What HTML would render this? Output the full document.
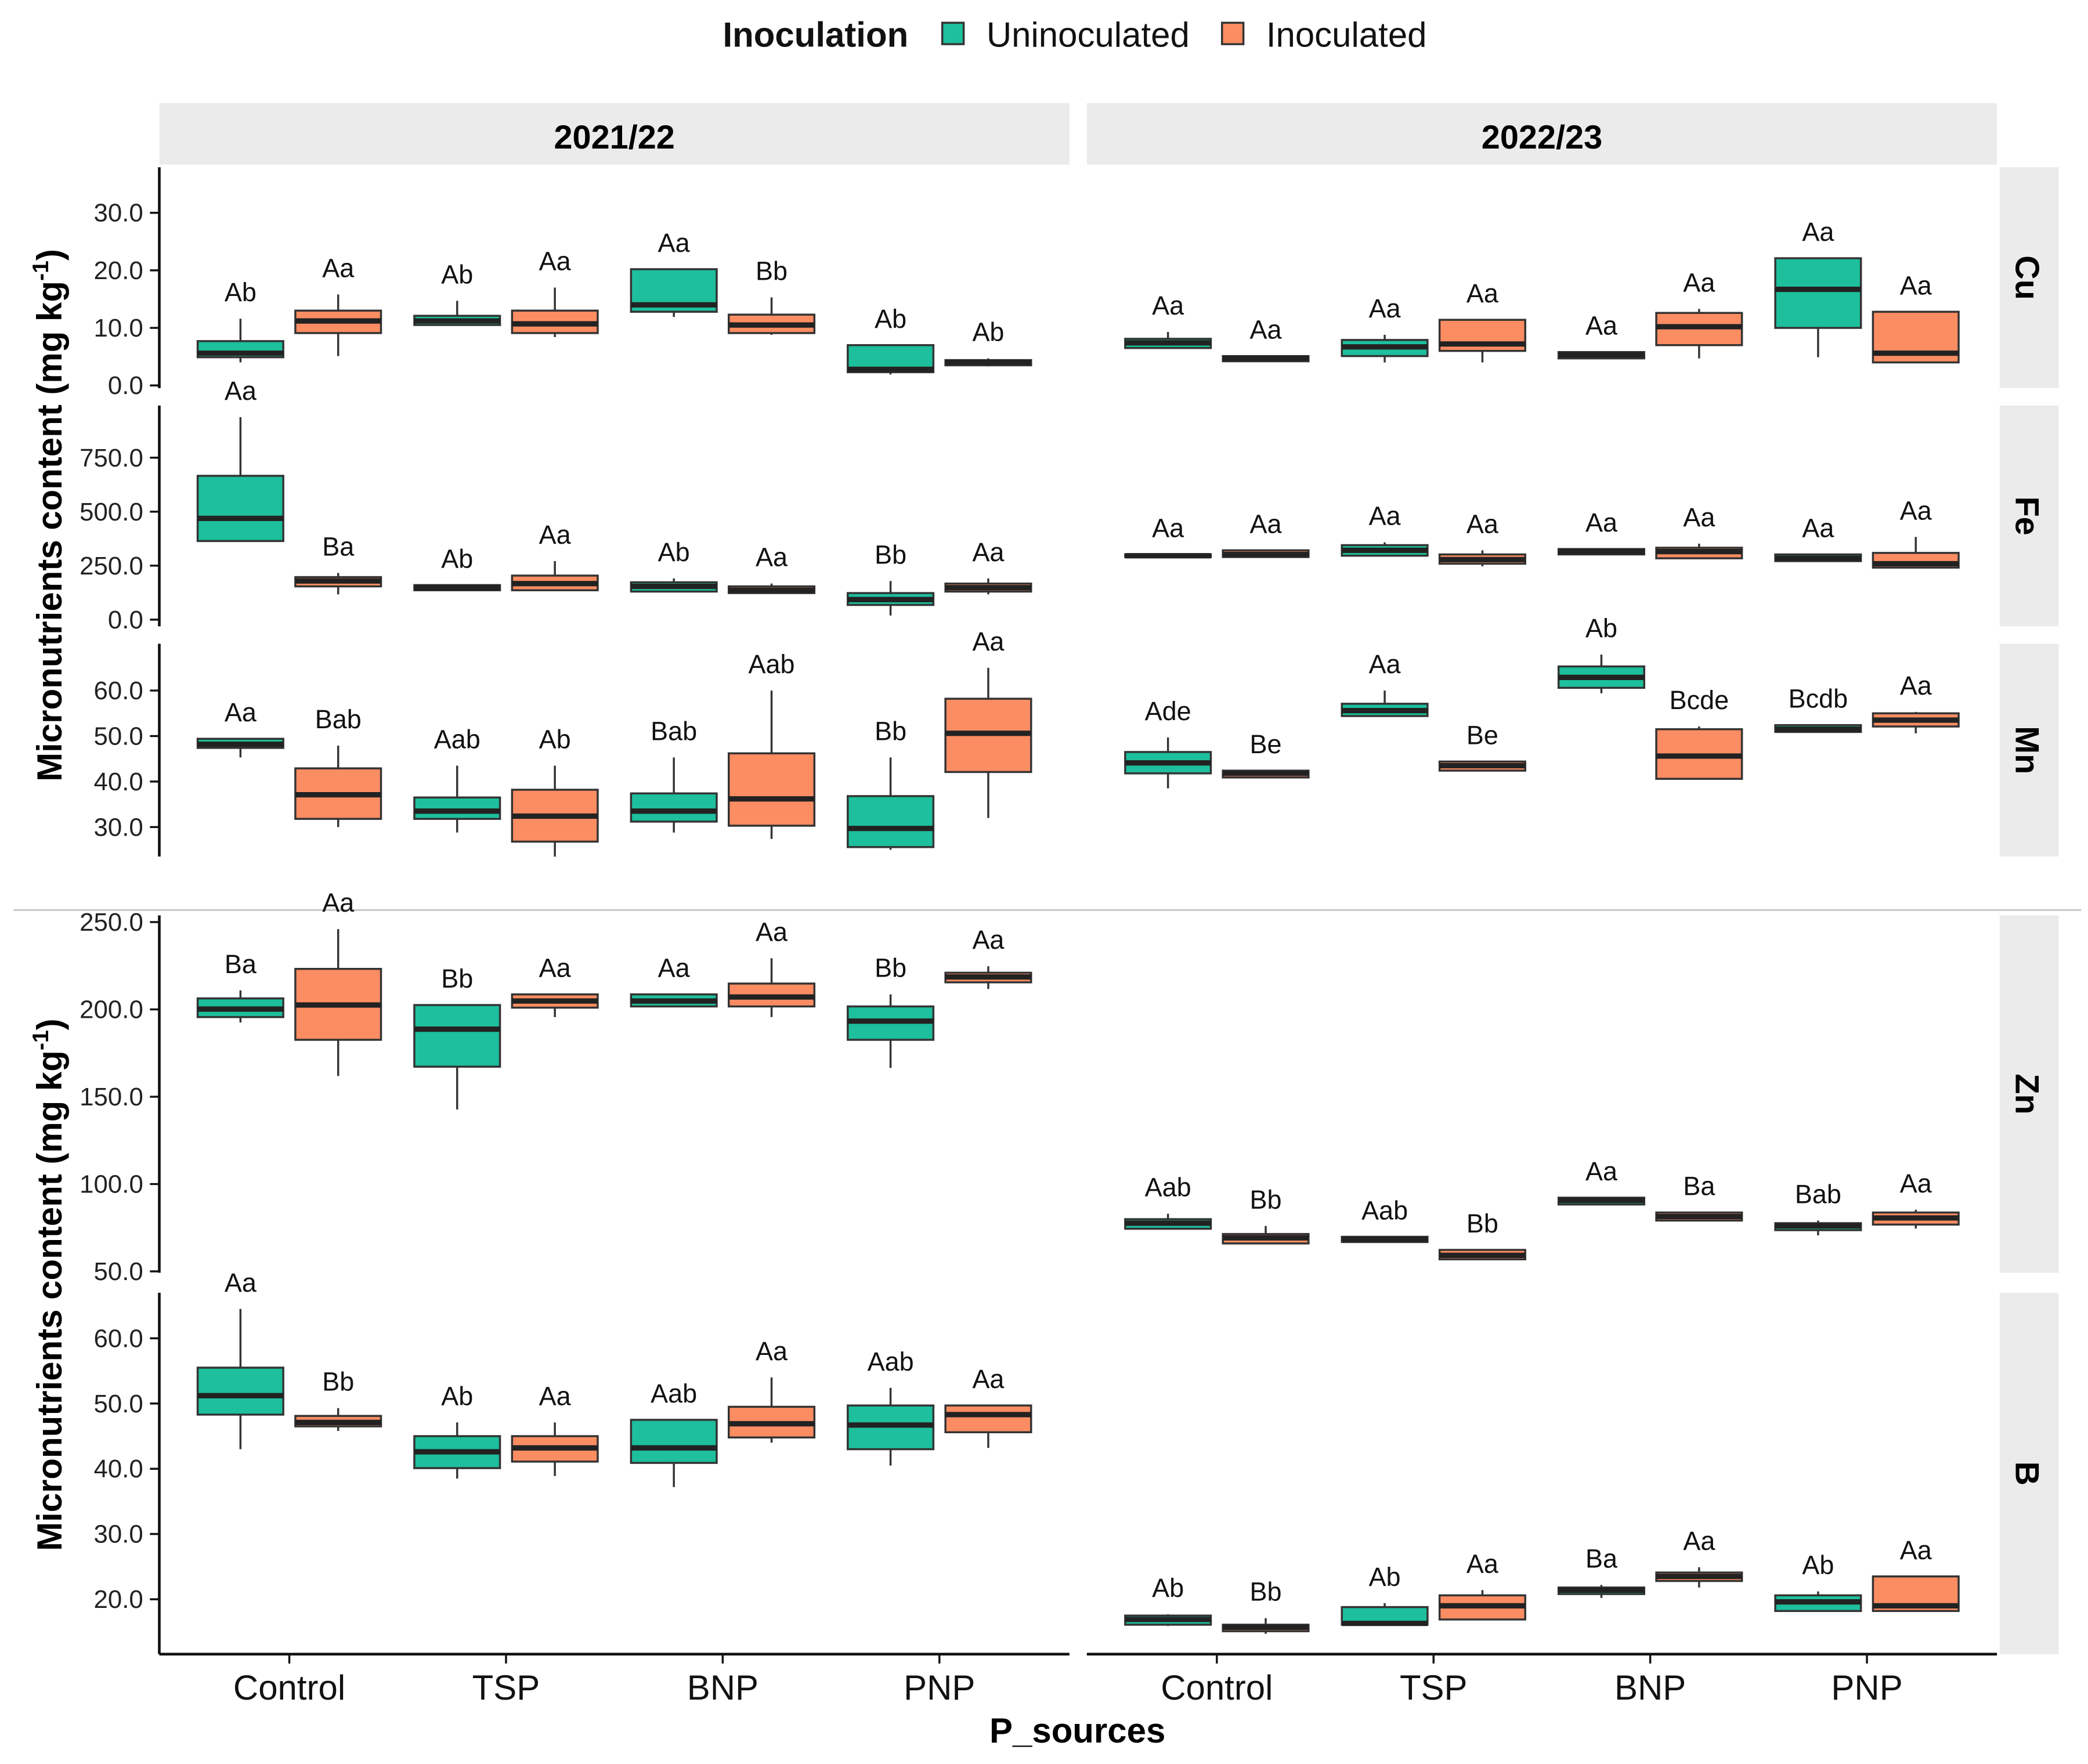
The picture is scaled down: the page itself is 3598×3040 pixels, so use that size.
<!DOCTYPE html>
<html><head><meta charset="utf-8"><style>html,body{margin:0;padding:0;background:#fff}svg{display:block}</style></head>
<body>
<svg id="chart" xmlns="http://www.w3.org/2000/svg" width="3598" height="3040" viewBox="0 0 1560 1318.1" font-family="Liberation Sans, Arial, sans-serif">
<rect width="1560" height="1318.1" fill="#fff"/>
<g>
<text x="540" y="35" font-size="26" font-weight="bold" fill="#111">Inoculation</text>
<g><rect x="704" y="17" width="16" height="16" fill="#1DBF9C" stroke="#333" stroke-width="1.5"/><text x="737" y="35" font-size="26" fill="#111">Uninoculated</text></g>
<g><rect x="913" y="17" width="16" height="16" fill="#FC8D62" stroke="#333" stroke-width="1.5"/><text x="946" y="35" font-size="26" fill="#111">Inoculated</text></g>
</g>
<rect x="119" y="77" width="680" height="46" fill="#EBEBEB"/>
<text x="459" y="111" font-size="25" font-weight="bold" text-anchor="middle">2021/22</text>
<rect x="812" y="77" width="680" height="46" fill="#EBEBEB"/>
<text x="1152" y="111" font-size="25" font-weight="bold" text-anchor="middle">2022/23</text>
<line x1="10" y1="680" x2="1555" y2="680" stroke="#ccc" stroke-width="1.5"/>
<text transform="translate(46,385) rotate(-90)" font-size="26" font-weight="bold" text-anchor="middle">Micronutrients content (mg kg<tspan font-size="17" dy="-10">-1</tspan><tspan dy="10">)</tspan></text>
<text transform="translate(46,960) rotate(-90)" font-size="26" font-weight="bold" text-anchor="middle">Micronutrients content (mg kg<tspan font-size="17" dy="-10">-1</tspan><tspan dy="10">)</tspan></text>
<text x="805" y="1302" font-size="26" font-weight="bold" text-anchor="middle">P_sources</text>
<g id="plot"></g>
</svg>
<script>
const categories = ["Control","TSP","BNP","PNP"];
const groups = ["Uninoculated","Inoculated"];
const facetNames = ["Cu","Fe","Mn","Zn","B"];
const cuTicks = [0,10,20,30];
const feTicks = [0,250,500,750];
const mnTicks = [30,40,50,60];
const znTicks = [50,100,150,200,250];
const bTicks = [20,30,40,50,60];
// each box: [lowWhisker, q1, median, q3, highWhisker], order: Control U, Control I, TSP U, TSP I, BNP U, BNP I, PNP U, PNP I
const cuLeft = [[4,4.9,5.6,7.7,11.6],[5.1,9.1,11.2,13,15.8],[10.5,10.5,11.2,12.1,14.7],[8.4,9.1,10.7,13,17],[11.9,12.8,14,20.2,20.2],[8.8,9.1,10.5,12.3,15.3],[1.9,2.3,2.8,7,7],[3.3,3.5,4,4.4,4.7]];
const cuLeftLabels = ["Ab","Aa","Ab","Aa","Aa","Bb","Ab","Ab"];
const cuRight = [[6.5,6.5,7.4,8.1,9.3],[4.2,4.2,4.7,5.1,5.1],[4,5.1,6.7,7.9,8.8],[4,6,7.2,11.4,11.4],[4.7,4.7,5.3,5.8,5.8],[4.7,7,10.2,12.6,13.3],[4.9,10,16.7,22.1,22.1],[4,4,5.6,12.8,12.8]];
const cuRightLabels = ["Aa","Aa","Aa","Aa","Aa","Aa","Aa","Aa"];
const feLeft = [[364,364,469,666,938],[117,154,179,197,216],[136,136,148,160,160],[136,136,167,204,271],[130,130,154,173,191],[123,123,136,154,167],[19,68,93,123,179],[117,130,148,167,191]];
const feLeftLabels = ["Aa","Ba","Ab","Aa","Ab","Aa","Bb","Aa"];
const feRight = [[290,290,296,302,302],[290,290,302,321,321],[296,296,321,345,358],[247,259,278,302,321],[302,302,315,327,327],[284,284,315,333,352],[271,271,284,302,302],[241,241,259,309,383]];
const feRightLabels = ["Aa","Aa","Aa","Aa","Aa","Aa","Aa","Aa"];
const mnLeft = [[45.3,47.4,48.2,49.4,49.4],[30,31.8,37.1,42.9,47.9],[28.8,31.8,33.5,36.5,43.5],[23.5,26.8,32.4,38.2,43.5],[28.8,31.2,33.5,37.4,45.3],[27.4,30.3,36.2,46.2,60],[25,25.6,29.7,36.8,45.3],[32,42.1,50.6,58.2,65]];
const mnLeftLabels = ["Aa","Bab","Aab","Ab","Bab","Aab","Bb","Aa"];
const mnRight = [[38.5,41.8,44.1,46.5,49.7],[40.9,40.9,41.8,42.4,42.4],[54.4,54.4,55.6,57.1,60],[42.4,42.4,43.5,44.4,44.4],[59.4,60.6,62.9,65.3,67.9],[40.6,40.6,45.6,51.5,52.1],[50.9,50.9,51.5,52.4,52.4],[50.6,52.1,53.5,55,55.3]];
const mnRightLabels = ["Ade","Be","Aa","Be","Ab","Bcde","Bcdb","Aa"];
const znLeft = [[192.5,195.6,200.2,206.3,210.9],[161.9,182.6,202.5,223.2,246],[142.7,167.2,188.7,202.5,202.5],[195.6,201,204.8,208.6,208.6],[201.7,201.7,204.8,208.6,208.6],[195.6,201.7,207.1,214.8,229.3],[166.5,182.6,193.3,201.7,208.6],[211.7,215.5,218.6,221,224.7]];
const znLeftLabels = ["Ba","Aa","Bb","Aa","Aa","Aa","Bb","Aa"];
const znRight = [[74.4,74.4,77.6,79.9,83],[66,66,69.2,71.4,76],[66.8,66.8,68.4,69.8,69.8],[56.9,56.9,59.2,62.3,62.3],[88.3,88.3,90.6,92.2,92.2],[79.1,79.1,81.4,83.7,83.7],[70.6,73.6,76,77.6,79.1],[74.5,76.8,80.6,83.7,85.3]];
const znRightLabels = ["Aab","Bb","Aab","Bb","Aa","Ba","Bab","Aa"];
const bLeft = [[43,48.3,51.2,55.5,64.5],[45.8,46.5,47.1,48.1,49.3],[38.5,40.1,42.6,45,47.1],[38.9,41.1,43.2,45,47.1],[37.2,40.9,43.2,47.5,47.5],[44,44.8,46.9,49.5,54],[40.5,43,46.7,49.7,52.4],[43.2,45.6,48.3,49.7,49.7]];
const bLeftLabels = ["Aa","Bb","Ab","Aa","Aab","Aa","Aab","Aa"];
const bRight = [[15.9,16.1,16.9,17.5,17.7],[14.7,15.1,15.7,16.1,17.1],[16.1,16.1,16.3,18.8,19.4],[16.9,16.9,19,20.6,21.4],[20.2,20.8,21.4,21.8,22.2],[21.8,22.8,23.5,24.1,24.9],[18.2,18.2,19.6,20.6,21.2],[18.2,18.2,19,23.5,23.5]];
const bRightLabels = ["Ab","Bb","Ab","Aa","Ba","Aa","Ab","Aa"];

const NS="http://www.w3.org/2000/svg";
const plot=document.getElementById('plot');
function mk(tag,attrs,parent){const e=document.createElementNS(NS,tag);for(const k in attrs)e.setAttribute(k,attrs[k]);(parent||plot).appendChild(e);return e;}
const facets=[
 {name:facetNames[0],top:125,bot:290,v0:0,y0:288,v1:30,y1:159,ticks:cuTicks,left:cuLeft,ll:cuLeftLabels,right:cuRight,rl:cuRightLabels},
 {name:facetNames[1],top:303,bot:468,v0:0,y0:463,v1:750,y1:342,ticks:feTicks,left:feLeft,ll:feLeftLabels,right:feRight,rl:feRightLabels},
 {name:facetNames[2],top:481,bot:640,v0:30,y0:618,v1:60,y1:516,ticks:mnTicks,left:mnLeft,ll:mnLeftLabels,right:mnRight,rl:mnRightLabels},
 {name:facetNames[3],top:684,bot:951,v0:50,y0:950,v1:250,y1:689,ticks:znTicks,left:znLeft,ll:znLeftLabels,right:znRight,rl:znRightLabels},
 {name:facetNames[4],top:966,bot:1236,v0:20,y0:1195,v1:60,y1:1000,ticks:bTicks,left:bLeft,ll:bLeftLabels,right:bRight,rl:bRightLabels}
];
const panels=[{x0:119,w:680},{x0:812,w:680}];
function xPos(panel,ci,gi){const step=panel.w/4.2;const c=panel.x0+panel.w/2+(ci-1.5)*step;return c+(gi===0?-36.5:36.5);}
const colors=["#1DBF9C","#FC8D62"];
facets.forEach(f=>{
  const yS=v=>f.y0+(v-f.v0)*(f.y1-f.y0)/(f.v1-f.v0);
  const strip=mk('rect',{x:1494,y:f.top,width:44,height:f.bot-f.top,fill:'#EBEBEB'});
  
  
  const st=mk('text',{transform:`translate(1506,${(f.top+f.bot)/2}) rotate(90)`,'font-size':25,'font-weight':'bold','text-anchor':'middle'});st.textContent=f.name;
  
  
  const ax=mk('line',{x1:119,y1:f.top,x2:119,y2:f.bot,stroke:'#111','stroke-width':2});
  
  
  f.ticks.forEach(t=>{
    const y=yS(t);
    const tl=mk('line',{x1:112,y1:y,x2:119,y2:y,stroke:'#111','stroke-width':1.5});
    
    
    const tx=mk('text',{x:107,y:y+6.5,'font-size':19,'text-anchor':'end',fill:'#222'});tx.textContent=t.toFixed(1);
    
    
  });
  [[f.left,f.ll],[f.right,f.rl]].forEach((pd,pi)=>{
    const panel=panels[pi];
    pd[0].forEach((b,i)=>{
      const ci=Math.floor(i/2),gi=i%2;
      const cx=xPos(panel,ci,gi),hw=32;
      const g=mk('g',{});
      
      
      mk('line',{x1:cx,y1:yS(b[4]),x2:cx,y2:yS(b[0]),stroke:'#333','stroke-width':1.5},g);
      mk('rect',{x:cx-hw,y:yS(b[3]),width:hw*2,height:Math.max(1,yS(b[1])-yS(b[3])),fill:colors[gi],stroke:'#333','stroke-width':1.5},g);
      mk('line',{x1:cx-hw,y1:yS(b[2]),x2:cx+hw,y2:yS(b[2]),stroke:'#222','stroke-width':4},g);
      const lb=mk('text',{x:cx,y:yS(b[4])-13,'font-size':19.5,'text-anchor':'middle',fill:'#111'});lb.textContent=pd[1][i];
      
      
    });
  });
});
panels.forEach((p,pi)=>{
  const bl=mk('line',{x1:p.x0,y1:1236,x2:p.x0+p.w,y2:1236,stroke:'#111','stroke-width':2});
  
  
  categories.forEach((c,ci)=>{
    const cx=(xPos(p,ci,0)+xPos(p,ci,1))/2;
    const tk=mk('line',{x1:cx,y1:1236,x2:cx,y2:1243,stroke:'#111','stroke-width':1.5});
    
    
    const t=mk('text',{x:cx,y:1270,'font-size':26,'text-anchor':'middle',fill:'#111'});t.textContent=c;
    
    
  });
});
</script>
</body></html>
